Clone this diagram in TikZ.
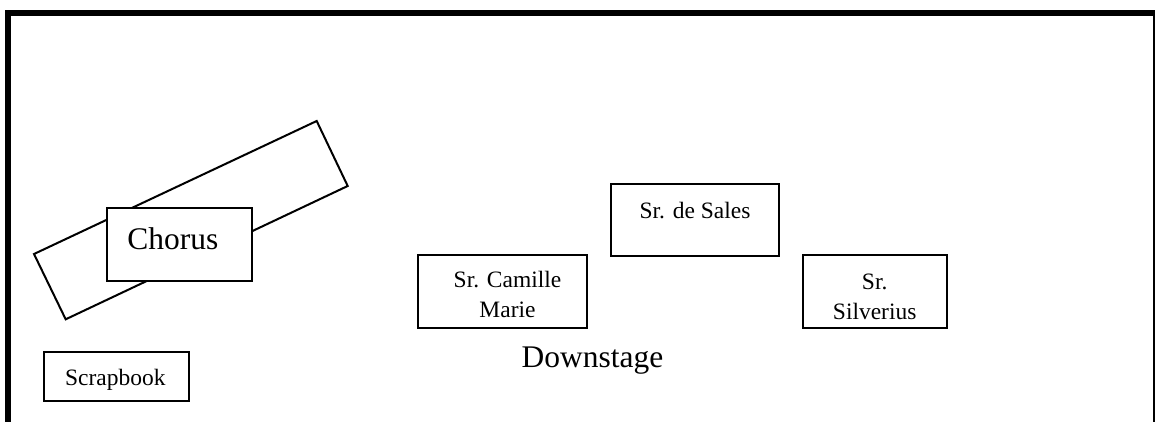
\documentclass[tikz,border=0pt]{standalone}
\usepackage{fontspec}
\setmainfont{Liberation Serif}
\usetikzlibrary{calc}
\begin{document}
\begin{tikzpicture}[x=0.75pt,y=-0.75pt,
  frame/.style={line width=4.5pt},
  boxline/.style={line width=1.5pt},
  stagebox/.style={draw, boxline, fill=white, inner sep=0pt},
  smalltext/.style={inner sep=0pt, align=center,
    font=\fontsize{17.6}{22.5}\selectfont},
  bigtext/.style={inner sep=0pt, font=\fontsize{23.6}{28}\selectfont}]
\useasboundingbox (0,0) rectangle (1155,421);
\clip (0,0) rectangle (1155,421);
% stage frame
\coordinate (tl) at (8,13);
\coordinate (tr) at (1156,13);
\coordinate (bl) at (8,430);
\coordinate (br) at (1156,430);
\draw[frame] ($(tl)+(-3,0)$) -- (tr);
\draw[frame] ($(tl)+(0,-3)$) -- (bl);
\draw[frame] (tr) -- (br);
% tilted riser
\coordinate (ra) at (34,254);
\coordinate (rb) at (65.7,319.3);
\coordinate (rc) at (347.7,186);
\coordinate (rd) at (316.7,121);
\draw[boxline, line join=miter] (ra) -- (rb) -- (rc) -- (rd) -- cycle;
% boxes
\node[stagebox, minimum width=108.75pt, minimum height=54.3pt] (chorus) at (179.2,244.5) {};
\node[stagebox, minimum width=109pt, minimum height=36.5pt] (scrap) at (116.7,376.3) {};
\node[stagebox, minimum width=126.3pt, minimum height=55pt] (camille) at (502.5,291.7) {};
\node[stagebox, minimum width=126pt, minimum height=53.8pt] (sales) at (695,220.2) {};
\node[stagebox, minimum width=108.5pt, minimum height=55pt] (silv) at (875,291.7) {};
% texts
\node[bigtext, anchor=base] (chorusT) at (172.8,249.3) {Chorus};
\node[smalltext, anchor=base] (scrapT) at (115.3,385) {Scrapbook};
\node[smalltext] (camilleT) at (507.5,294.9) {Sr. Camille\\Marie};
\node[smalltext, anchor=base] (salesT) at (695,218) {Sr. de Sales};
\node[smalltext] (silvT) at (874.7,296.5) {Sr.\\Silverius};
\node[bigtext, anchor=base] (down) at (592.5,367.3) {Downstage};
\end{tikzpicture}
\end{document}
